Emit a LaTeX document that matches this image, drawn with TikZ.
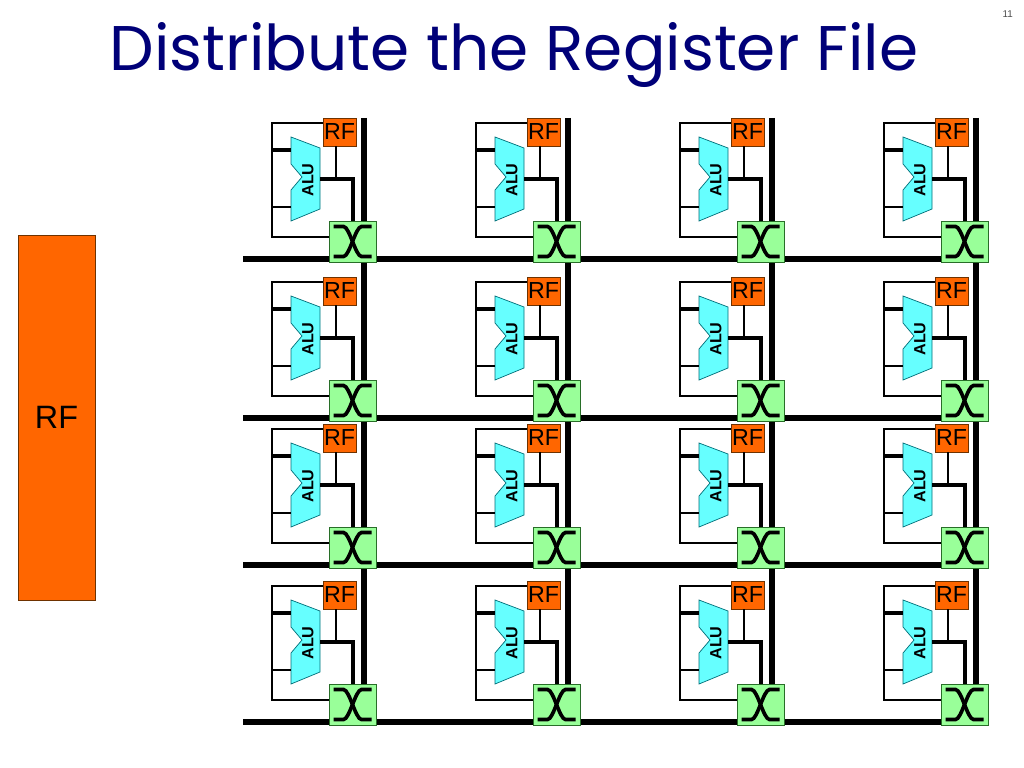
\documentclass[tikz,border=0pt]{standalone}
\usepackage{fontspec}
\setmainfont{Liberation Sans}
\newfontfamily\titlefont{Poppins}
\usepackage{tikz}
\usetikzlibrary{positioning}
\usepackage{xcolor}
\definecolor{rforange}{RGB}{255,102,0}
\definecolor{rfedge}{RGB}{110,50,0}
\definecolor{alucyan}{RGB}{102,255,255}
\definecolor{aluedge}{RGB}{0,110,120}
\definecolor{xgreen}{RGB}{153,255,153}
\definecolor{xedge}{RGB}{40,110,40}
\definecolor{titleblue}{RGB}{0,0,120}
\tikzstyle{rfbox} = [rectangle, draw=rfedge, fill=rforange, line width=0.5pt, minimum width=0.825cm, minimum height=0.7cm, inner sep=0pt, font=\fontsize{16.5}{16.5}\selectfont]
\tikzstyle{xbox} = [rectangle, draw=xedge, fill=xgreen, line width=0.6pt, minimum width=1.175cm, minimum height=1.025cm, inner sep=0pt]
\tikzstyle{alubody} = [draw=aluedge, fill=alucyan, line width=0.5pt]
\tikzstyle{alulabel} = [rotate=90, inner sep=0pt, font=\bfseries\fontsize{11.5}{11.5}\selectfont]
\tikzstyle{bus} = [line width=4.2pt, black]
\tikzstyle{wire} = [line width=1.4pt]
\tikzstyle{fatwire} = [line width=2.3pt]
\tikzstyle{xstroke} = [line width=2.6pt]

\begin{document}
\begin{tikzpicture}[x=0.025cm, y=-0.025cm]
\useasboundingbox (0,0) rectangle (1024,768);
% title and page number
\node (title) [anchor=base, text=titleblue, inner sep=0pt] at (514,71) {\titlefont\resizebox{20.2cm}{1.2cm}{Distribute the Register File}};
\node (page) [anchor=base east, text=black!70, font=\fontsize{7}{7}\selectfont, inner sep=0pt] at (1013,18) {11};

% one big register file
\node (bigrf) [rfbox, minimum width=1.925cm, minimum height=9.125cm, font=\fontsize{23}{23}\selectfont] at (56.5,417.5) {RF};

% buses
\foreach \y [count=\j] in {118,277,424,581} {
  \coordinate (hbw\j) at (243,\y+141);
  \coordinate (hbe\j) at (989,\y+141);
  \draw[bus] (hbw\j) -- (hbe\j);
}
\foreach \x [count=\i] in {323,527,731,935} {
  \coordinate (vbn\i) at (\x+41,118);
  \coordinate (vbs\i) at (\x+41,722);
  \draw[bus] (vbn\i) -- (vbs\i);
}

% distributed tiles
\foreach \x [count=\i] in {323,527,731,935}
\foreach \y [count=\j] in {118,277,424,581} {
  \node (rf\i\j) [rfbox] at (\x+16.5,\y+14) {RF};
  \node (sw\i\j) [xbox] at (\x+29.5,\y+123.5) {};
  \draw[alubody] (\x-32,\y+19) -- (\x-3,\y+30) -- (\x-3,\y+91) -- (\x-32,\y+103) -- (\x-32,\y+72) -- (\x-21,\y+59) -- (\x-32,\y+46) -- cycle;
  \node (alu\i\j) [alulabel] at (\x-15,\y+62) {ALU};
  \draw[wire] (rf\i\j.west |- 0,\y+5) -- (\x-51,\y+5) -- (\x-51,\y+119) -- (sw\i\j.west |- 0,\y+119);
  \draw[fatwire] (\x-51,\y+32) -- (\x-32,\y+32);
  \draw[wire] (\x-51,\y+89) -- (\x-32,\y+89);
  \draw[fatwire] (\x-3,\y+61) -| (\x+30,0 |- sw\i\j.north);
  \draw[wire] (\x+13,0 |- rf\i\j.south) -- (\x+13,\y+61);
  \draw[xstroke] ([shift={(-19,-15)}]sw\i\j.center) -- ++(10,0) .. controls +(6,0) and +(-6,0) .. ++(18,30) -- ++(10,0);
  \draw[xstroke] ([shift={(19,-15)}]sw\i\j.center) -- ++(-10,0) .. controls +(-6,0) and +(6,0) .. ++(-18,30) -- ++(-10,0);
}
\end{tikzpicture}
\end{document}
